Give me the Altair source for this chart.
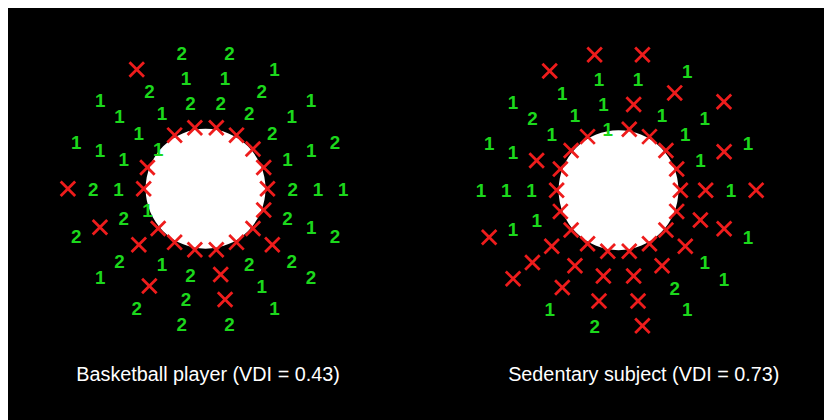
import math
import altair as alt
import pandas as pd

# ---- data ----
SPOKE_ANGLES = list(range(0, 360, 20))          # degrees, counter-clockwise from the right
RING_INDEX = [0, 1, 2, 3]                        # inner -> outer
# one string per ring, one symbol per spoke (X = red cross, 1 / 2 = green digit)
BASKETBALL_RINGS = [
    "XXXXXXX1XX1XXXXXXX",
    "21222211112X12X2X2",
    "1112112112X2X2X121",
    "121122X11X21222122",
]
SEDENTARY_RINGS = [
    "XXXXX1XXXXXXXXXXXX",
    "X111X111X11XXXXXXX",
    "1X1X1112111XXXX21X",
    "X1X1XXX111XX12X111",
]
SUBJECTS = ["Basketball player", "Sedentary subject"]
VDI = ["0.43", "0.73"]

# ---- layout ----
W, H = 824, 412
CENTERS = [(199.5, 180.5), (616.5, 182.0)]
CAPTION_X = [202.0, 642.0]
CAPTION_Y = 375
R0, DR = 62.5, 25.5
DISC_DIAM = 121

rows = []
for p, rings in enumerate([BASKETBALL_RINGS, SEDENTARY_RINGS]):
    cx, cy = CENTERS[p]
    for k in RING_INDEX:
        r = R0 + DR * k
        for j, ang in enumerate(SPOKE_ANGLES):
            s = rings[k][j]
            t = math.radians(ang)
            rows.append({"panel": SUBJECTS[p], "sym": s,
                         "x": cx + r * math.cos(t), "y": cy - r * math.sin(t)})
df = pd.DataFrame(rows)
digits = df[df.sym != "X"]
crosses = df[df.sym == "X"]

discs = pd.DataFrame({"panel": SUBJECTS, "x": [c[0] for c in CENTERS], "y": [c[1] for c in CENTERS]})
caps = pd.DataFrame({"label": [f"{s} (VDI = {v})" for s, v in zip(SUBJECTS, VDI)],
                     "x": CAPTION_X, "y": [CAPTION_Y, CAPTION_Y]})

X = alt.X("x:Q", scale=alt.Scale(domain=[0, W]), axis=None)
Y = alt.Y("y:Q", scale=alt.Scale(domain=[0, H], reverse=True), axis=None)

disc_layer = alt.Chart(discs).mark_point(
    shape="circle", filled=True, color="white", size=DISC_DIAM ** 2, opacity=1, strokeWidth=0
).encode(x=X, y=Y)

digit_layer = alt.Chart(digits).mark_text(
    font="Liberation Sans", fontWeight="bold", fontSize=19, color="#1cd81c",
    align="center", baseline="middle", dy=1
).encode(x=X, y=Y, text="sym:N")

cross_layer = alt.Chart(crosses).mark_point(
    shape="M-1,-1L1,1M-1,1L1,-1", filled=False, color="#ee1c1c",
    strokeWidth=2.8, size=215, opacity=1
).encode(x=X, y=Y)

cap_layer = alt.Chart(caps).mark_text(
    font="Liberation Sans", fontSize=20, color="white", align="center", baseline="alphabetic"
).encode(x=X, y=Y, text="label:N")

chart = alt.layer(disc_layer, digit_layer, cross_layer, cap_layer).properties(
    width=W, height=H, background="black", padding=0,
    autosize=alt.AutoSizeParams(type="none")
).configure_view(stroke=None)

chart.save("out.html", embed_options={"renderer": "svg", "actions": False})
